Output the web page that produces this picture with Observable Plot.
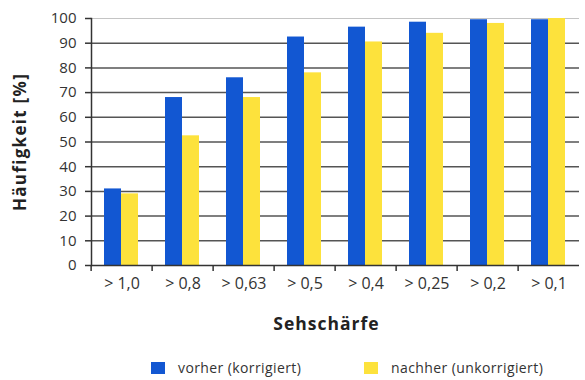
<!DOCTYPE html>
<html>
<head>
<meta charset="utf-8">
<script src="https://cdn.jsdelivr.net/npm/d3@7"></script>
<script src="https://cdn.jsdelivr.net/npm/@observablehq/plot@0.6"></script>
<style>
  body { margin: 0; background: #fff; font-family: "Open Sans", sans-serif; }
  #wrap { position: relative; width: 585px; height: 380px; }
  g[aria-label="y-axis label"] text { font-weight: bold; font-size: 17px; letter-spacing: 1.3px; fill: #222; }
  g[aria-label="fx-axis label"] text { font-weight: bold; font-size: 17.5px; letter-spacing: 1px; fill: #222; translate: -9px 0; }
  .legend { position: absolute; top: 358px; left: 0; width: 585px; height: 20px; font-size: 14px; letter-spacing: 0.4px; color: #333; }
  .legend .item { position: absolute; top: 0; display: flex; align-items: center; }
  .legend .sw { width: 14px; height: 12px; margin-right: 13px; }
</style>
</head>
<body>
<div id="wrap"></div>
<script>
// Sehschärfe-Klassen und Häufigkeiten (%)
const categories = ["> 1,0", "> 0,8", "> 0,63", "> 0,5", "> 0,4", "> 0,25", "> 0,2", "> 0,1"];
const series = ["vorher (korrigiert)", "nachher (unkorrigiert)"];
const vorher = [31, 68, 76, 92.5, 96.5, 98.5, 99.5, 99.5];
const nachher = [29, 52.5, 68, 78, 90.5, 94, 98, 100];
const yTicks = [0, 10, 20, 30, 40, 50, 60, 70, 80, 90, 100];
const colors = ["#1257d2", "#fde23c"];

const data = categories.flatMap((c, i) => [
  {cat: c, series: series[0], value: vorher[i]},
  {cat: c, series: series[1], value: nachher[i]}
]);

const W = 585, H = 345, mL = 88, mR = 3;
const band = (W - mL - mR) / categories.length;

const chart = Plot.plot({
  width: W,
  height: H,
  marginTop: 18,
  marginLeft: mL,
  marginRight: mR,
  marginBottom: 80,
  style: {fontFamily: "'Open Sans', sans-serif", fontSize: "14px", color: "#333", background: "#fff"},
  fx: {domain: categories, padding: 0},
  x: {domain: series, paddingInner: 0, paddingOuter: 0.72, align: 0.47, axis: null},
  y: {domain: [0, 100]},
  color: {domain: series, range: colors},
  marks: [
    Plot.gridY(yTicks.filter(d => d > 0 && d < 100), {stroke: "#555", strokeOpacity: 1, strokeWidth: 1.5}),
    Plot.ruleY([100], {stroke: "#c4c4c4", strokeWidth: 1}),
    Plot.barY(data, {fx: "cat", x: "series", y: "value", fill: "series"}),
    Plot.ruleY([0], {stroke: "#333", strokeWidth: 1.5}),
    Plot.frame({anchor: "left", facetAnchor: "left", stroke: "#333", strokeWidth: 1.5}),
    Plot.axisY({
      ticks: yTicks, tickSize: 6, tickPadding: 9, fontSize: 15, stroke: "#333", strokeWidth: 1.5,
      label: "Häufigkeit [%]", labelAnchor: "center", labelArrow: "none", labelOffset: 78
    }),
    Plot.axisFx({anchor: "bottom", tickSize: 6, tickFormat: () => "", dx: -band / 2, stroke: "#333", strokeWidth: 1.5, label: null}),
    Plot.axisFx({
      anchor: "bottom", tickSize: 0, tickPadding: 12, fontSize: 16,
      label: "Sehschärfe", labelAnchor: "center", labelOffset: 64
    })
  ]
});

const wrap = document.getElementById("wrap");
wrap.appendChild(chart);

// Legende unter dem Diagramm
const legend = document.createElement("div");
legend.className = "legend";
const lefts = [151, 364];
series.forEach((s, i) => {
  const item = document.createElement("div");
  item.className = "item";
  item.style.left = lefts[i] + "px";
  const sw = document.createElement("span");
  sw.className = "sw";
  sw.style.background = colors[i];
  const t = document.createElement("span");
  t.textContent = s;
  item.appendChild(sw);
  item.appendChild(t);
  legend.appendChild(item);
});
wrap.appendChild(legend);
</script>
</body>
</html>
